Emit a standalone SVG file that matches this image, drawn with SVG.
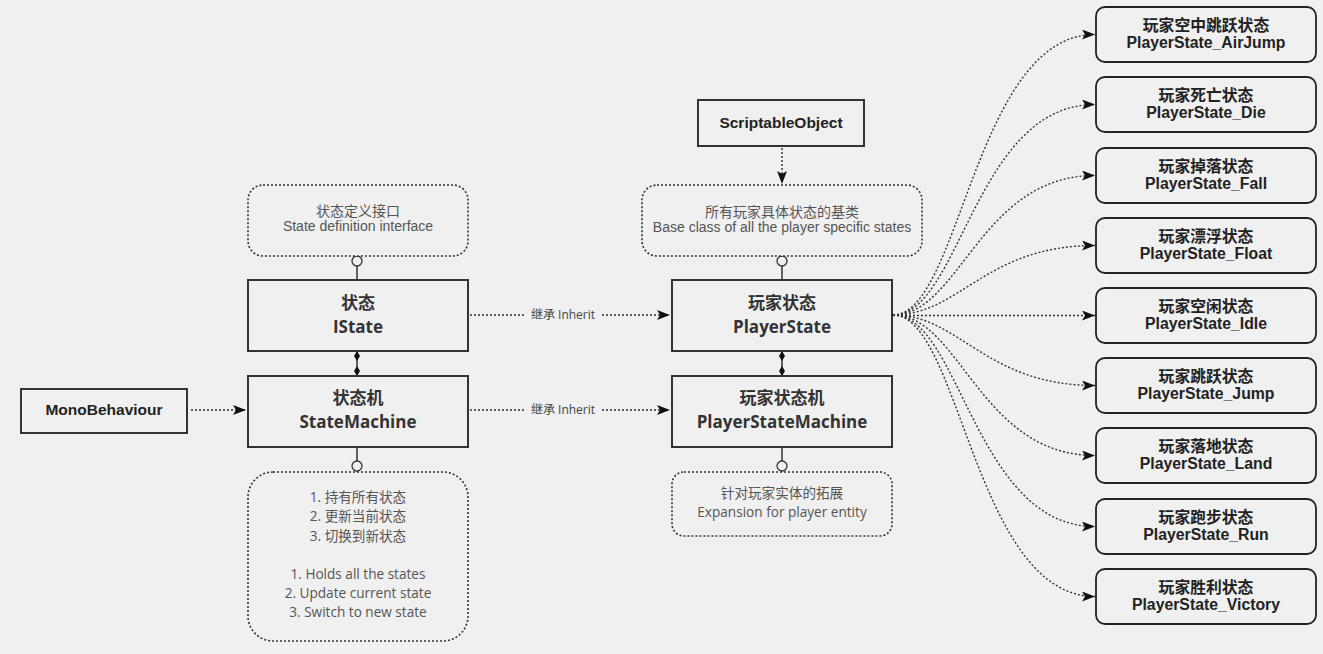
<svg xmlns="http://www.w3.org/2000/svg" width="1323" height="654" viewBox="0 0 1323 654">
<defs>
<style>
.bg{fill:#f0f0f0}
.box{fill:#f0f0f0;stroke:#333;stroke-width:2}
.note{fill:#f0f0f0;stroke:#333;stroke-width:1.6;stroke-dasharray:2 2}
.st{fill:#f0f0f0;stroke:#222;stroke-width:1.8}
.t1{font-family:"Open Sans","Noto Sans CJK SC",sans-serif;font-weight:bold;font-size:17px;fill:#333;text-anchor:middle}
.t2{font-family:"Liberation Sans","Noto Sans CJK SC",sans-serif;font-weight:bold;font-size:15.5px;fill:#222;text-anchor:middle}
.t3{font-family:"Liberation Sans","Noto Sans CJK SC",sans-serif;font-weight:bold;font-size:15.8px;fill:#222;text-anchor:middle}
.tn{font-family:"Liberation Sans","Noto Sans CJK SC",sans-serif;font-size:14px;fill:#555;text-anchor:middle}
.tm{font-family:"Open Sans","Noto Sans CJK SC",sans-serif;font-size:13.6px;fill:#555;text-anchor:middle}
.tl{font-family:"Open Sans","Noto Sans CJK SC",sans-serif;font-size:12px;fill:#444;text-anchor:middle}
.dl{fill:none;stroke:#333;stroke-width:1.4;stroke-dasharray:2 2}
.sl{fill:none;stroke:#333;stroke-width:1.5}
.circ{fill:#f0f0f0;stroke:#333;stroke-width:1.3}
</style>
<marker id="arr" viewBox="0 0 13 10" refX="13" refY="5" markerWidth="13" markerHeight="10" markerUnits="userSpaceOnUse" orient="auto">
<path d="M0,0 L13,5 L0,10 L3,5 Z" fill="#111"/>
</marker>
</defs>
<rect class="bg" x="0" y="0" width="1323" height="654"/>

<g id="connectors">
<line class="sl" x1="357" y1="266" x2="357" y2="280"/>
<circle class="circ" cx="357" cy="261" r="5"/>
<line class="sl" x1="357" y1="447" x2="357" y2="461"/>
<circle class="circ" cx="357" cy="466" r="5"/>
<line class="sl" x1="782" y1="266" x2="782" y2="280"/>
<circle class="circ" cx="782" cy="261" r="5"/>
<line class="sl" x1="782" y1="447" x2="782" y2="461"/>
<circle class="circ" cx="782" cy="466" r="5"/>
<line class="sl" x1="357" y1="352" x2="357" y2="375"/>
<path d="M357,351 L360,356 L357,361 L354,356 Z" fill="#111"/>
<path d="M357,366 L360,371 L357,376 L354,371 Z" fill="#111"/>
<line class="sl" x1="782" y1="352" x2="782" y2="375"/>
<path d="M782,351 L785,356 L782,361 L779,356 Z" fill="#111"/>
<path d="M782,366 L785,371 L782,376 L779,371 Z" fill="#111"/>
<line class="dl" x1="191" y1="410" x2="246" y2="410" marker-end="url(#arr)"/>
<line class="dl" x1="782" y1="148" x2="782" y2="184" marker-end="url(#arr)"/>
<line class="dl" x1="470" y1="315" x2="524" y2="315"/>
<line class="dl" x1="602" y1="315" x2="670" y2="315" marker-end="url(#arr)"/>
<text class="tl" x="563" y="319">继承 Inherit</text>
<line class="dl" x1="470" y1="410" x2="524" y2="410"/>
<line class="dl" x1="602" y1="410" x2="670" y2="410" marker-end="url(#arr)"/>
<text class="tl" x="563" y="414">继承 Inherit</text>
<path class="dl" d="M893,315 C960,315 975,34.5 1095,34.5" marker-end="url(#arr)"/>
<path class="dl" d="M893,315 C960,315 975,104.5 1095,104.5" marker-end="url(#arr)"/>
<path class="dl" d="M893,315 C960,315 980,175.5 1095,175.5" marker-end="url(#arr)"/>
<path class="dl" d="M893,315 C960,315 985,245.5 1095,245.5" marker-end="url(#arr)"/>
<path class="dl" d="M893,315.5 L1095,315.5" marker-end="url(#arr)"/>
<path class="dl" d="M893,315 C960,315 985,385.5 1095,385.5" marker-end="url(#arr)"/>
<path class="dl" d="M893,315 C960,315 980,455.5 1095,455.5" marker-end="url(#arr)"/>
<path class="dl" d="M893,315 C960,315 975,526.5 1095,526.5" marker-end="url(#arr)"/>
<path class="dl" d="M893,315 C960,315 975,596.5 1095,596.5" marker-end="url(#arr)"/>
</g>

<g id="note-istate">
<rect class="note" x="248" y="185" width="220" height="71" rx="15"/>
<text class="tn" x="358" y="216">状态定义接口</text>
<text class="tn" x="358" y="231">State definition interface</text>
</g>
<g id="istate">
<rect class="box" x="248" y="280" width="220" height="71"/>
<text class="t1" x="358" y="309">状态</text>
<text class="t1" x="358" y="333">IState</text>
</g>
<g id="statemachine">
<rect class="box" x="248" y="376" width="220" height="71"/>
<text class="t1" x="358" y="404">状态机</text>
<text class="t1" x="358" y="428">StateMachine</text>
</g>
<g id="note-statemachine">
<rect class="note" x="248" y="472" width="220" height="169" rx="25"/>
<text class="tm" x="358" y="502">1. 持有所有状态</text>
<text class="tm" x="358" y="521">2. 更新当前状态</text>
<text class="tm" x="358" y="541">3. 切换到新状态</text>
<text class="tm" x="358" y="579">1. Holds all the states</text>
<text class="tm" x="358" y="598">2. Update current state</text>
<text class="tm" x="358" y="617">3. Switch to new state</text>
</g>
<g id="monobehaviour">
<rect class="box" x="21" y="389" width="166" height="44"/>
<text class="t2" x="104" y="415">MonoBehaviour</text>
</g>
<g id="scriptableobject">
<rect class="box" x="698" y="100" width="166" height="46"/>
<text class="t2" x="781" y="128">ScriptableObject</text>
</g>
<g id="note-playerstate">
<rect class="note" x="642" y="185" width="280" height="71" rx="15"/>
<text class="tn" x="782" y="217">所有玩家具体状态的基类</text>
<text class="tn" x="782" y="232">Base class of all the player specific states</text>
</g>
<g id="playerstate">
<rect class="box" x="672" y="280" width="220" height="71"/>
<text class="t1" x="782" y="309">玩家状态</text>
<text class="t1" x="782" y="333">PlayerState</text>
</g>
<g id="playerstatemachine">
<rect class="box" x="672" y="376" width="220" height="71"/>
<text class="t1" x="782" y="404">玩家状态机</text>
<text class="t1" x="782" y="428">PlayerStateMachine</text>
</g>
<g id="note-playerstatemachine">
<rect class="note" x="672" y="472" width="220" height="64" rx="12"/>
<text class="tm" x="782" y="498">针对玩家实体的拓展</text>
<text class="tm" x="782" y="517">Expansion for player entity</text>
</g>

<g id="airjump"><rect class="st" x="1096" y="7" width="220" height="55" rx="9"/><text class="t3" x="1206" y="31">玩家空中跳跃状态</text><text class="t3" x="1206" y="48">PlayerState_AirJump</text></g>
<g id="die"><rect class="st" x="1096" y="77" width="220" height="55" rx="9"/><text class="t3" x="1206" y="101">玩家死亡状态</text><text class="t3" x="1206" y="118">PlayerState_Die</text></g>
<g id="fall"><rect class="st" x="1096" y="148" width="220" height="55" rx="9"/><text class="t3" x="1206" y="172">玩家掉落状态</text><text class="t3" x="1206" y="189">PlayerState_Fall</text></g>
<g id="float"><rect class="st" x="1096" y="218" width="220" height="55" rx="9"/><text class="t3" x="1206" y="242">玩家漂浮状态</text><text class="t3" x="1206" y="259">PlayerState_Float</text></g>
<g id="idle"><rect class="st" x="1096" y="288" width="220" height="55" rx="9"/><text class="t3" x="1206" y="312">玩家空闲状态</text><text class="t3" x="1206" y="329">PlayerState_Idle</text></g>
<g id="jump"><rect class="st" x="1096" y="358" width="220" height="55" rx="9"/><text class="t3" x="1206" y="382">玩家跳跃状态</text><text class="t3" x="1206" y="399">PlayerState_Jump</text></g>
<g id="land"><rect class="st" x="1096" y="428" width="220" height="55" rx="9"/><text class="t3" x="1206" y="452">玩家落地状态</text><text class="t3" x="1206" y="469">PlayerState_Land</text></g>
<g id="run"><rect class="st" x="1096" y="499" width="220" height="55" rx="9"/><text class="t3" x="1206" y="523">玩家跑步状态</text><text class="t3" x="1206" y="540">PlayerState_Run</text></g>
<g id="victory"><rect class="st" x="1096" y="569" width="220" height="55" rx="9"/><text class="t3" x="1206" y="593">玩家胜利状态</text><text class="t3" x="1206" y="610">PlayerState_Victory</text></g>
</svg>
